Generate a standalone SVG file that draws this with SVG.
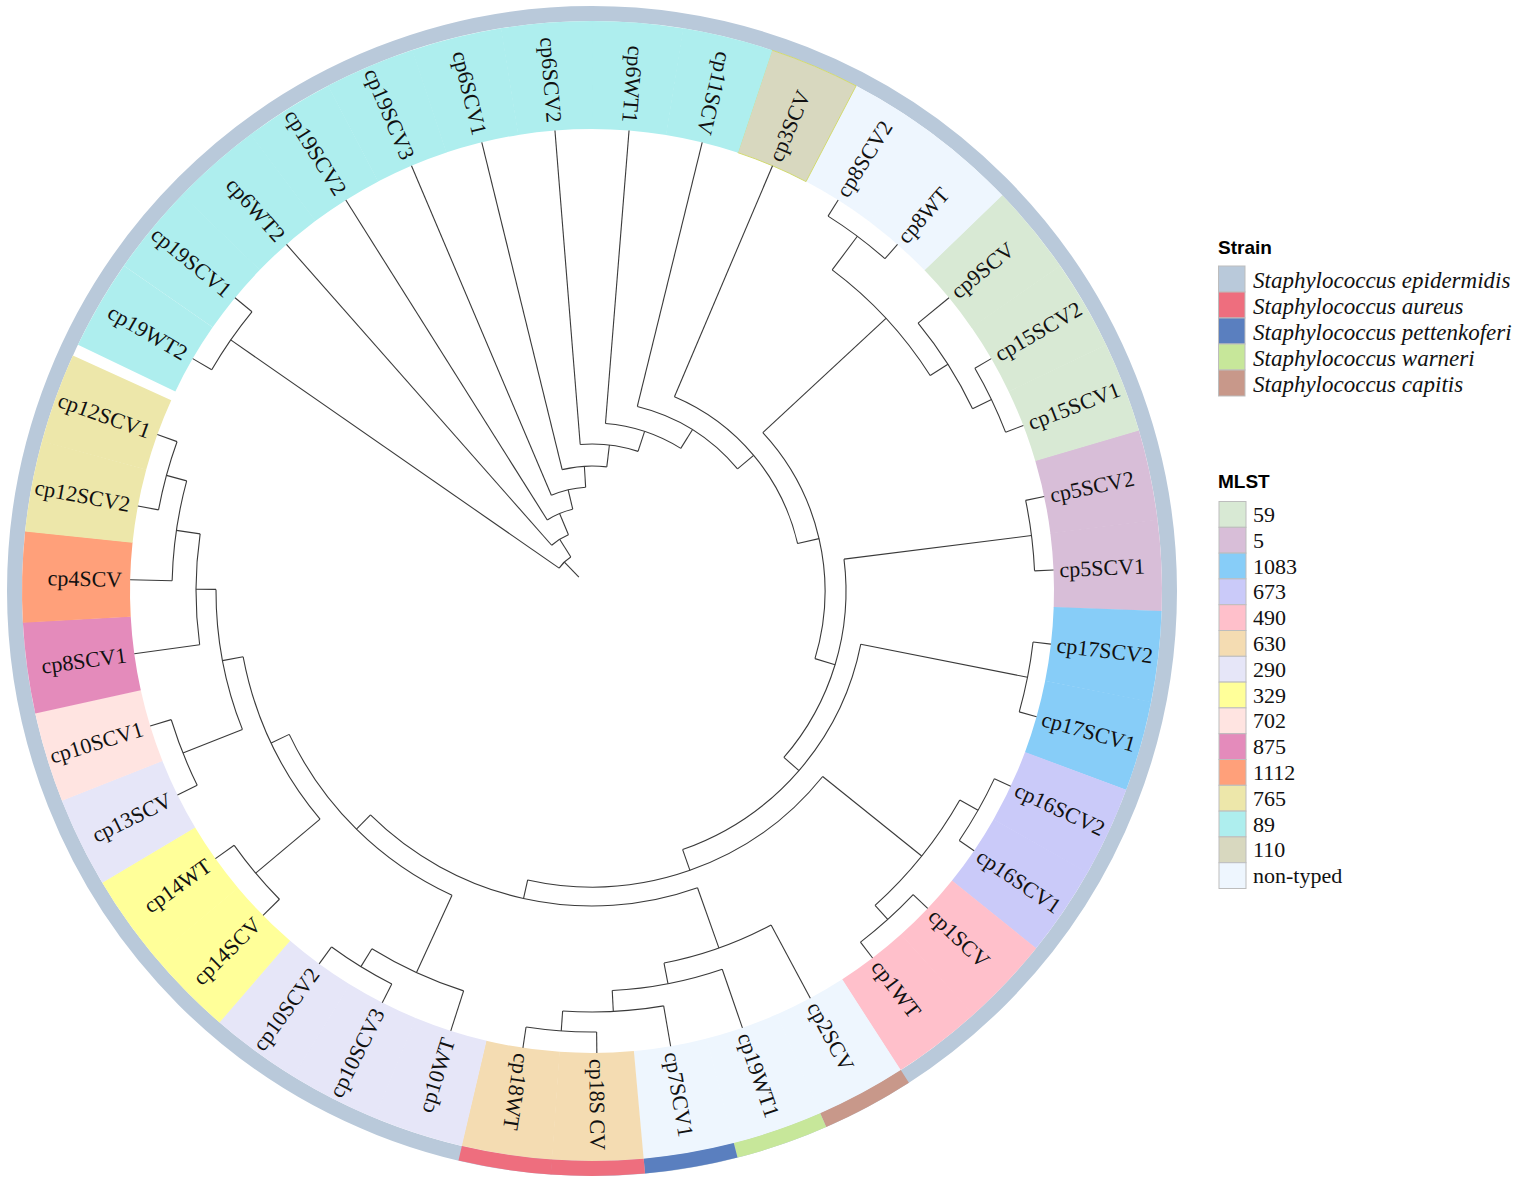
<svg xmlns="http://www.w3.org/2000/svg" width="1524" height="1186" viewBox="0 0 1524 1186">
<style>
.e{stroke:#3a3a3a;stroke-width:1.1;fill:none}
.band{fill:none;stroke-width:108}
.ring{fill:none;stroke-width:15}
.lab{font-family:"Liberation Serif",serif;font-size:22px;fill:#111;dominant-baseline:central}
.f{text-anchor:end}
.lt{font-family:"Liberation Sans",Arial,sans-serif;font-weight:bold;font-size:19px;fill:#000}
.ll{font-family:"Liberation Serif",serif;font-size:22px;fill:#111;dominant-baseline:central}
.it{font-style:italic;font-size:23px}
.lb{stroke:#bdbdbd;stroke-width:1}
</style>
<rect width="1524" height="1186" fill="#fff"/>
<g transform="translate(592 591)">
<circle class="ring" r="577.5" stroke="#b9c9da"/>
<g id="leaf-cp5SCV1"><circle class="band" r="516" pathLength="360" stroke-dasharray="9.25 400" transform="rotate(-7.2)" stroke="#d8bed8"/><text class="lab" transform="rotate(-2.6) translate(468 0)">cp5SCV1</text></g>
<g id="leaf-cp5SCV2"><circle class="band" r="516" pathLength="360" stroke-dasharray="9.25 400" transform="rotate(-16.4)" stroke="#d8bed8"/><text class="lab" transform="rotate(-11.8) translate(468 0)">cp5SCV2</text></g>
<g id="leaf-cp15SCV1"><circle class="band" r="516" pathLength="360" stroke-dasharray="9.25 400" transform="rotate(-25.6)" stroke="#d8e9d4"/><text class="lab" transform="rotate(-21) translate(468 0)">cp15SCV1</text></g>
<g id="leaf-cp15SCV2"><circle class="band" r="516" pathLength="360" stroke-dasharray="9.25 400" transform="rotate(-34.8)" stroke="#d8e9d4"/><text class="lab" transform="rotate(-30.2) translate(468 0)">cp15SCV2</text></g>
<g id="leaf-cp9SCV"><circle class="band" r="516" pathLength="360" stroke-dasharray="9.25 400" transform="rotate(-44)" stroke="#d8e9d4"/><text class="lab" transform="rotate(-39.4) translate(468 0)">cp9SCV</text></g>
<g id="leaf-cp8WT"><circle class="band" r="516" pathLength="360" stroke-dasharray="9.25 400" transform="rotate(-53.2)" stroke="#eef6fe"/><text class="lab" transform="rotate(-48.6) translate(468 0)">cp8WT</text></g>
<g id="leaf-cp8SCV2"><circle class="band" r="516" pathLength="360" stroke-dasharray="9.25 400" transform="rotate(-62.4)" stroke="#eef6fe"/><text class="lab" transform="rotate(-57.8) translate(468 0)">cp8SCV2</text></g>
<g id="leaf-cp3SCV"><path d="M145.83,-438.38 L179.92,-540.86 A570,570 0 0 1 264.08,-505.13 L214.04,-409.42 A462,462 0 0 0 145.83,-438.38Z" fill="#d8d8bf" stroke="#d2da70" stroke-width="1"/><text class="lab" transform="rotate(-67) translate(468 0)">cp3SCV</text></g>
<g id="leaf-cp11SCV"><circle class="band" r="516" pathLength="360" stroke-dasharray="9.25 400" transform="rotate(-80.8)" stroke="#aeeeee"/><text class="lab f" transform="rotate(-76.2) translate(470 0) rotate(180)">cp11SCV</text></g>
<g id="leaf-cp6WT1"><circle class="band" r="516" pathLength="360" stroke-dasharray="9.25 400" transform="rotate(-90)" stroke="#aeeeee"/><text class="lab f" transform="rotate(-85.4) translate(470 0) rotate(180)">cp6WT1</text></g>
<g id="leaf-cp6SCV2"><circle class="band" r="516" pathLength="360" stroke-dasharray="9.25 400" transform="rotate(-99.2)" stroke="#aeeeee"/><text class="lab f" transform="rotate(-94.6) translate(470 0) rotate(180)">cp6SCV2</text></g>
<g id="leaf-cp6SCV1"><circle class="band" r="516" pathLength="360" stroke-dasharray="9.25 400" transform="rotate(-108.4)" stroke="#aeeeee"/><text class="lab f" transform="rotate(-103.8) translate(470 0) rotate(180)">cp6SCV1</text></g>
<g id="leaf-cp19SCV3"><circle class="band" r="516" pathLength="360" stroke-dasharray="9.25 400" transform="rotate(-117.6)" stroke="#aeeeee"/><text class="lab f" transform="rotate(-113) translate(470 0) rotate(180)">cp19SCV3</text></g>
<g id="leaf-cp19SCV2"><circle class="band" r="516" pathLength="360" stroke-dasharray="9.25 400" transform="rotate(-126.8)" stroke="#aeeeee"/><text class="lab f" transform="rotate(-122.2) translate(470 0) rotate(180)">cp19SCV2</text></g>
<g id="leaf-cp6WT2"><circle class="band" r="516" pathLength="360" stroke-dasharray="9.25 400" transform="rotate(-136)" stroke="#aeeeee"/><text class="lab f" transform="rotate(-131.4) translate(470 0) rotate(180)">cp6WT2</text></g>
<g id="leaf-cp19SCV1"><circle class="band" r="516" pathLength="360" stroke-dasharray="9.25 400" transform="rotate(-145.2)" stroke="#aeeeee"/><text class="lab f" transform="rotate(-140.6) translate(470 0) rotate(180)">cp19SCV1</text></g>
<g id="leaf-cp19WT2"><circle class="band" r="516" pathLength="360" stroke-dasharray="9.2 400" transform="rotate(-154.4)" stroke="#aeeeee"/><text class="lab f" transform="rotate(-149.8) translate(470 0) rotate(180)">cp19WT2</text></g>
<g id="leaf-cp17SCV2"><circle class="band" r="516" pathLength="360" stroke-dasharray="9.25 400" transform="rotate(2)" stroke="#87cdf8"/><text class="lab" transform="rotate(6.6) translate(468 0)">cp17SCV2</text></g>
<g id="leaf-cp17SCV1"><circle class="band" r="516" pathLength="360" stroke-dasharray="9.25 400" transform="rotate(11.2)" stroke="#87cdf8"/><text class="lab" transform="rotate(15.8) translate(468 0)">cp17SCV1</text></g>
<g id="leaf-cp16SCV2"><circle class="band" r="516" pathLength="360" stroke-dasharray="9.25 400" transform="rotate(20.4)" stroke="#cacaf9"/><text class="lab" transform="rotate(25) translate(468 0)">cp16SCV2</text></g>
<g id="leaf-cp16SCV1"><circle class="band" r="516" pathLength="360" stroke-dasharray="9.25 400" transform="rotate(29.6)" stroke="#cacaf9"/><text class="lab" transform="rotate(34.2) translate(468 0)">cp16SCV1</text></g>
<g id="leaf-cp1SCV"><circle class="band" r="516" pathLength="360" stroke-dasharray="9.25 400" transform="rotate(38.8)" stroke="#ffc0cb"/><text class="lab" transform="rotate(43.4) translate(468 0)">cp1SCV</text></g>
<g id="leaf-cp1WT"><circle class="band" r="516" pathLength="360" stroke-dasharray="9.25 400" transform="rotate(48)" stroke="#ffc0cb"/><text class="lab" transform="rotate(52.6) translate(468 0)">cp1WT</text></g>
<g id="leaf-cp2SCV"><circle class="band" r="516" pathLength="360" stroke-dasharray="9.25 400" transform="rotate(57.2)" stroke="#eef6fe"/><circle class="ring" r="577.5" pathLength="360" stroke-dasharray="9.2 400" transform="rotate(57.2)" stroke="#c8988a"/><text class="lab" transform="rotate(61.8) translate(468 0)">cp2SCV</text></g>
<g id="leaf-cp19WT1"><circle class="band" r="516" pathLength="360" stroke-dasharray="9.25 400" transform="rotate(66.4)" stroke="#eef6fe"/><circle class="ring" r="577.5" pathLength="360" stroke-dasharray="9.2 400" transform="rotate(66.4)" stroke="#c7e79a"/><text class="lab" transform="rotate(71) translate(468 0)">cp19WT1</text></g>
<g id="leaf-cp7SCV1"><circle class="band" r="516" pathLength="360" stroke-dasharray="9.25 400" transform="rotate(75.6)" stroke="#eef6fe"/><circle class="ring" r="577.5" pathLength="360" stroke-dasharray="9.2 400" transform="rotate(75.6)" stroke="#5a7fbf"/><text class="lab" transform="rotate(80.2) translate(468 0)">cp7SCV1</text></g>
<g id="leaf-cp18SCV"><circle class="band" r="516" pathLength="360" stroke-dasharray="9.25 400" transform="rotate(84.8)" stroke="#f4dcb2"/><circle class="ring" r="577.5" pathLength="360" stroke-dasharray="9.25 400" transform="rotate(84.8)" stroke="#ee6e7e"/><text class="lab" transform="rotate(89.4) translate(468 0)">cp18S CV</text></g>
<g id="leaf-cp18WT"><circle class="band" r="516" pathLength="360" stroke-dasharray="9.25 400" transform="rotate(94)" stroke="#f4dcb2"/><circle class="ring" r="577.5" pathLength="360" stroke-dasharray="9.2 400" transform="rotate(94)" stroke="#ee6e7e"/><text class="lab" transform="rotate(98.6) translate(468 0)">cp18WT</text></g>
<g id="leaf-cp10WT"><circle class="band" r="516" pathLength="360" stroke-dasharray="9.25 400" transform="rotate(103.2)" stroke="#e6e6f8"/><text class="lab f" transform="rotate(107.8) translate(470 0) rotate(180)">cp10WT</text></g>
<g id="leaf-cp10SCV3"><circle class="band" r="516" pathLength="360" stroke-dasharray="9.25 400" transform="rotate(112.4)" stroke="#e6e6f8"/><text class="lab f" transform="rotate(117) translate(470 0) rotate(180)">cp10SCV3</text></g>
<g id="leaf-cp10SCV2"><circle class="band" r="516" pathLength="360" stroke-dasharray="9.25 400" transform="rotate(121.6)" stroke="#e6e6f8"/><text class="lab f" transform="rotate(126.2) translate(470 0) rotate(180)">cp10SCV2</text></g>
<g id="leaf-cp14SCV"><circle class="band" r="516" pathLength="360" stroke-dasharray="9.25 400" transform="rotate(130.8)" stroke="#ffff99"/><text class="lab f" transform="rotate(135.4) translate(470 0) rotate(180)">cp14SCV</text></g>
<g id="leaf-cp14WT"><circle class="band" r="516" pathLength="360" stroke-dasharray="9.25 400" transform="rotate(140)" stroke="#ffff99"/><text class="lab f" transform="rotate(144.6) translate(470 0) rotate(180)">cp14WT</text></g>
<g id="leaf-cp13SCV"><circle class="band" r="516" pathLength="360" stroke-dasharray="9.25 400" transform="rotate(149.2)" stroke="#e6e6f8"/><text class="lab f" transform="rotate(153.8) translate(470 0) rotate(180)">cp13SCV</text></g>
<g id="leaf-cp10SCV1"><circle class="band" r="516" pathLength="360" stroke-dasharray="9.25 400" transform="rotate(158.4)" stroke="#ffe4e1"/><text class="lab f" transform="rotate(163) translate(470 0) rotate(180)">cp10SCV1</text></g>
<g id="leaf-cp8SCV1"><circle class="band" r="516" pathLength="360" stroke-dasharray="9.25 400" transform="rotate(167.6)" stroke="#e48bbb"/><text class="lab f" transform="rotate(172.2) translate(470 0) rotate(180)">cp8SCV1</text></g>
<g id="leaf-cp4SCV"><circle class="band" r="516" pathLength="360" stroke-dasharray="9.25 400" transform="rotate(176.8)" stroke="#ffa07a"/><text class="lab f" transform="rotate(181.4) translate(470 0) rotate(180)">cp4SCV</text></g>
<g id="leaf-cp12SCV2"><circle class="band" r="516" pathLength="360" stroke-dasharray="9.25 400" transform="rotate(186)" stroke="#ede7aa"/><text class="lab f" transform="rotate(190.6) translate(470 0) rotate(180)">cp12SCV2</text></g>
<g id="leaf-cp12SCV1"><circle class="band" r="516" pathLength="360" stroke-dasharray="9.2 400" transform="rotate(195.2)" stroke="#ede7aa"/><text class="lab f" transform="rotate(199.8) translate(470 0) rotate(180)">cp12SCV1</text></g>

<g id="connectors" class="e">
<line x1="19" x2="40" transform="rotate(-133.6)"/>
<circle r="40" pathLength="360" stroke-dasharray="23.2 400" transform="rotate(-145.2)"/>
<line x1="40" x2="440" transform="rotate(-145.2)"/>
<line x1="40" x2="61" transform="rotate(-122)"/>
<circle r="440" pathLength="360" stroke-dasharray="9.2 400" transform="rotate(-149.8)"/>
<line x1="440" x2="462" transform="rotate(-149.8)"/>
<line x1="440" x2="462" transform="rotate(-140.6)"/>
<circle r="61" pathLength="360" stroke-dasharray="18.7 400" transform="rotate(-131.4)"/>
<line x1="61" x2="462" transform="rotate(-131.4)"/>
<line x1="61" x2="84" transform="rotate(-112.7)"/>
<circle r="84" pathLength="360" stroke-dasharray="18.95 400" transform="rotate(-122.2)"/>
<line x1="84" x2="462" transform="rotate(-122.2)"/>
<line x1="84" x2="104" transform="rotate(-103.25)"/>
<circle r="104" pathLength="360" stroke-dasharray="19.5 400" transform="rotate(-113)"/>
<line x1="104" x2="462" transform="rotate(-113)"/>
<line x1="104" x2="125" transform="rotate(-93.5)"/>
<circle r="125" pathLength="360" stroke-dasharray="20.6 400" transform="rotate(-103.8)"/>
<line x1="125" x2="462" transform="rotate(-103.8)"/>
<line x1="125" x2="147" transform="rotate(-83.2)"/>
<circle r="147" pathLength="360" stroke-dasharray="22.85 400" transform="rotate(-94.6)"/>
<line x1="147" x2="462" transform="rotate(-94.6)"/>
<line x1="147" x2="168" transform="rotate(-71.75)"/>
<circle r="168" pathLength="360" stroke-dasharray="27.3 400" transform="rotate(-85.4)"/>
<line x1="168" x2="462" transform="rotate(-85.4)"/>
<line x1="168" x2="190" transform="rotate(-58.1)"/>
<circle r="190" pathLength="360" stroke-dasharray="36.2 400" transform="rotate(-76.2)"/>
<line x1="190" x2="462" transform="rotate(-76.2)"/>
<line x1="190" x2="211" transform="rotate(-40)"/>
<circle r="211" pathLength="360" stroke-dasharray="54.01 400" transform="rotate(-67)"/>
<line x1="211" x2="462" transform="rotate(-67)"/>
<line x1="211" x2="233" transform="rotate(-12.99)"/>
<circle r="233" pathLength="360" stroke-dasharray="59.72 400" transform="rotate(-42.85)"/>
<line x1="233" x2="401" transform="rotate(-42.85)"/>
<line x1="233" x2="254" transform="rotate(16.87)"/>
<circle r="401" pathLength="360" stroke-dasharray="20.7 400" transform="rotate(-53.2)"/>
<line x1="401" x2="443" transform="rotate(-53.2)"/>
<line x1="401" x2="422" transform="rotate(-32.5)"/>
<circle r="443" pathLength="360" stroke-dasharray="9.2 400" transform="rotate(-57.8)"/>
<line x1="443" x2="462" transform="rotate(-57.8)"/>
<line x1="443" x2="462" transform="rotate(-48.6)"/>
<circle r="422" pathLength="360" stroke-dasharray="13.8 400" transform="rotate(-39.4)"/>
<line x1="422" x2="462" transform="rotate(-39.4)"/>
<line x1="422" x2="443" transform="rotate(-25.6)"/>
<circle r="443" pathLength="360" stroke-dasharray="9.2 400" transform="rotate(-30.2)"/>
<line x1="443" x2="462" transform="rotate(-30.2)"/>
<line x1="443" x2="462" transform="rotate(-21)"/>
<circle r="254" pathLength="360" stroke-dasharray="48.14 400" transform="rotate(-7.2)"/>
<line x1="254" x2="443" transform="rotate(-7.2)"/>
<line x1="254" x2="274" transform="rotate(40.94)"/>
<circle r="443" pathLength="360" stroke-dasharray="9.2 400" transform="rotate(-11.8)"/>
<line x1="443" x2="462" transform="rotate(-11.8)"/>
<line x1="443" x2="462" transform="rotate(-2.6)"/>
<circle r="274" pathLength="360" stroke-dasharray="59.48 400" transform="rotate(11.2)"/>
<line x1="274" x2="444" transform="rotate(11.2)"/>
<line x1="274" x2="296" transform="rotate(70.68)"/>
<circle r="444" pathLength="360" stroke-dasharray="9.2 400" transform="rotate(6.6)"/>
<line x1="444" x2="462" transform="rotate(6.6)"/>
<line x1="444" x2="462" transform="rotate(15.8)"/>
<circle r="296" pathLength="360" stroke-dasharray="63.75 400" transform="rotate(38.8)"/>
<line x1="296" x2="423" transform="rotate(38.8)"/>
<line x1="296" x2="315" transform="rotate(102.55)"/>
<circle r="423" pathLength="360" stroke-dasharray="18.4 400" transform="rotate(29.6)"/>
<line x1="423" x2="444" transform="rotate(29.6)"/>
<line x1="423" x2="442" transform="rotate(48)"/>
<circle r="444" pathLength="360" stroke-dasharray="9.2 400" transform="rotate(25)"/>
<line x1="444" x2="462" transform="rotate(25)"/>
<line x1="444" x2="462" transform="rotate(34.2)"/>
<circle r="442" pathLength="360" stroke-dasharray="9.2 400" transform="rotate(43.4)"/>
<line x1="442" x2="462" transform="rotate(43.4)"/>
<line x1="442" x2="462" transform="rotate(52.6)"/>
<circle r="315" pathLength="360" stroke-dasharray="64.25 400" transform="rotate(70.43)"/>
<line x1="315" x2="379" transform="rotate(70.43)"/>
<line x1="315" x2="335" transform="rotate(134.68)"/>
<circle r="379" pathLength="360" stroke-dasharray="17.25 400" transform="rotate(61.8)"/>
<line x1="379" x2="462" transform="rotate(61.8)"/>
<line x1="379" x2="400" transform="rotate(79.05)"/>
<circle r="400" pathLength="360" stroke-dasharray="16.1 400" transform="rotate(71)"/>
<line x1="400" x2="462" transform="rotate(71)"/>
<line x1="400" x2="421" transform="rotate(87.1)"/>
<circle r="421" pathLength="360" stroke-dasharray="13.8 400" transform="rotate(80.2)"/>
<line x1="421" x2="462" transform="rotate(80.2)"/>
<line x1="421" x2="441" transform="rotate(94)"/>
<circle r="441" pathLength="360" stroke-dasharray="9.2 400" transform="rotate(89.4)"/>
<line x1="441" x2="462" transform="rotate(89.4)"/>
<line x1="441" x2="462" transform="rotate(98.6)"/>
<circle r="335" pathLength="360" stroke-dasharray="39.96 400" transform="rotate(114.7)"/>
<line x1="335" x2="420" transform="rotate(114.7)"/>
<line x1="335" x2="355" transform="rotate(154.66)"/>
<circle r="420" pathLength="360" stroke-dasharray="13.8 400" transform="rotate(107.8)"/>
<line x1="420" x2="462" transform="rotate(107.8)"/>
<line x1="420" x2="441" transform="rotate(121.6)"/>
<circle r="441" pathLength="360" stroke-dasharray="9.2 400" transform="rotate(117)"/>
<line x1="441" x2="462" transform="rotate(117)"/>
<line x1="441" x2="462" transform="rotate(126.2)"/>
<circle r="355" pathLength="360" stroke-dasharray="29.325 400" transform="rotate(140)"/>
<line x1="355" x2="439" transform="rotate(140)"/>
<line x1="355" x2="376" transform="rotate(169.325)"/>
<circle r="439" pathLength="360" stroke-dasharray="9.2 400" transform="rotate(135.4)"/>
<line x1="439" x2="462" transform="rotate(135.4)"/>
<line x1="439" x2="462" transform="rotate(144.6)"/>
<circle r="376" pathLength="360" stroke-dasharray="21.85 400" transform="rotate(158.4)"/>
<line x1="376" x2="440" transform="rotate(158.4)"/>
<line x1="376" x2="396" transform="rotate(180.25)"/>
<circle r="440" pathLength="360" stroke-dasharray="9.2 400" transform="rotate(153.8)"/>
<line x1="440" x2="462" transform="rotate(153.8)"/>
<line x1="440" x2="462" transform="rotate(163)"/>
<circle r="396" pathLength="360" stroke-dasharray="16.1 400" transform="rotate(172.2)"/>
<line x1="396" x2="462" transform="rotate(172.2)"/>
<line x1="396" x2="420" transform="rotate(188.3)"/>
<circle r="420" pathLength="360" stroke-dasharray="13.8 400" transform="rotate(181.4)"/>
<line x1="420" x2="462" transform="rotate(181.4)"/>
<line x1="420" x2="441" transform="rotate(195.2)"/>
<circle r="441" pathLength="360" stroke-dasharray="9.2 400" transform="rotate(190.6)"/>
<line x1="441" x2="462" transform="rotate(190.6)"/>
<line x1="441" x2="462" transform="rotate(199.8)"/>
</g>
</g>

<g id="legend-strain">
<text class="lt" x="1218" y="254">Strain</text>
<rect class="lb" x="1218.5" y="266" width="26.5" height="26" fill="#b9c9da"/>
<rect class="lb" x="1218.5" y="292" width="26.5" height="26" fill="#ee6e7e"/>
<rect class="lb" x="1218.5" y="318" width="26.5" height="26" fill="#5a7fbf"/>
<rect class="lb" x="1218.5" y="344" width="26.5" height="26" fill="#c7e79a"/>
<rect class="lb" x="1218.5" y="370" width="26.5" height="26" fill="#c8988a"/>
<text class="ll it" x="1253" y="280">Staphylococcus epidermidis</text>
<text class="ll it" x="1253" y="306">Staphylococcus aureus</text>
<text class="ll it" x="1253" y="332">Staphylococcus pettenkoferi</text>
<text class="ll it" x="1253" y="358">Staphylococcus warneri</text>
<text class="ll it" x="1253" y="384">Staphylococcus capitis</text>
</g>

<g id="legend-mlst">
<text class="lt" x="1218" y="488">MLST</text>
<rect class="lb" x="1219" y="501.5" width="27" height="25.8" fill="#d8e9d4"/>
<rect class="lb" x="1219" y="527.3" width="27" height="25.8" fill="#d8bed8"/>
<rect class="lb" x="1219" y="553.1" width="27" height="25.8" fill="#87cdf8"/>
<rect class="lb" x="1219" y="578.9" width="27" height="25.8" fill="#cacaf9"/>
<rect class="lb" x="1219" y="604.7" width="27" height="25.8" fill="#ffc0cb"/>
<rect class="lb" x="1219" y="630.5" width="27" height="25.8" fill="#f4dcb2"/>
<rect class="lb" x="1219" y="656.3" width="27" height="25.8" fill="#e6e6f8"/>
<rect class="lb" x="1219" y="682.1" width="27" height="25.8" fill="#ffff99"/>
<rect class="lb" x="1219" y="707.9" width="27" height="25.8" fill="#ffe4e1"/>
<rect class="lb" x="1219" y="733.7" width="27" height="25.8" fill="#e48bbb"/>
<rect class="lb" x="1219" y="759.5" width="27" height="25.8" fill="#ffa07a"/>
<rect class="lb" x="1219" y="785.3" width="27" height="25.8" fill="#ede7aa"/>
<rect class="lb" x="1219" y="811.1" width="27" height="25.8" fill="#aeeeee"/>
<rect class="lb" x="1219" y="836.9" width="27" height="25.8" fill="#d8d8bf"/>
<rect class="lb" x="1219" y="862.7" width="27" height="25.8" fill="#eef6fe"/>
<text class="ll" x="1253" y="514.4">59</text>
<text class="ll" x="1253" y="540.2">5</text>
<text class="ll" x="1253" y="566">1083</text>
<text class="ll" x="1253" y="591.8">673</text>
<text class="ll" x="1253" y="617.6">490</text>
<text class="ll" x="1253" y="643.4">630</text>
<text class="ll" x="1253" y="669.2">290</text>
<text class="ll" x="1253" y="695">329</text>
<text class="ll" x="1253" y="720.8">702</text>
<text class="ll" x="1253" y="746.6">875</text>
<text class="ll" x="1253" y="772.4">1112</text>
<text class="ll" x="1253" y="798.2">765</text>
<text class="ll" x="1253" y="824">89</text>
<text class="ll" x="1253" y="849.8">110</text>
<text class="ll" x="1253" y="875.6">non-typed</text>
</g>
</svg>
